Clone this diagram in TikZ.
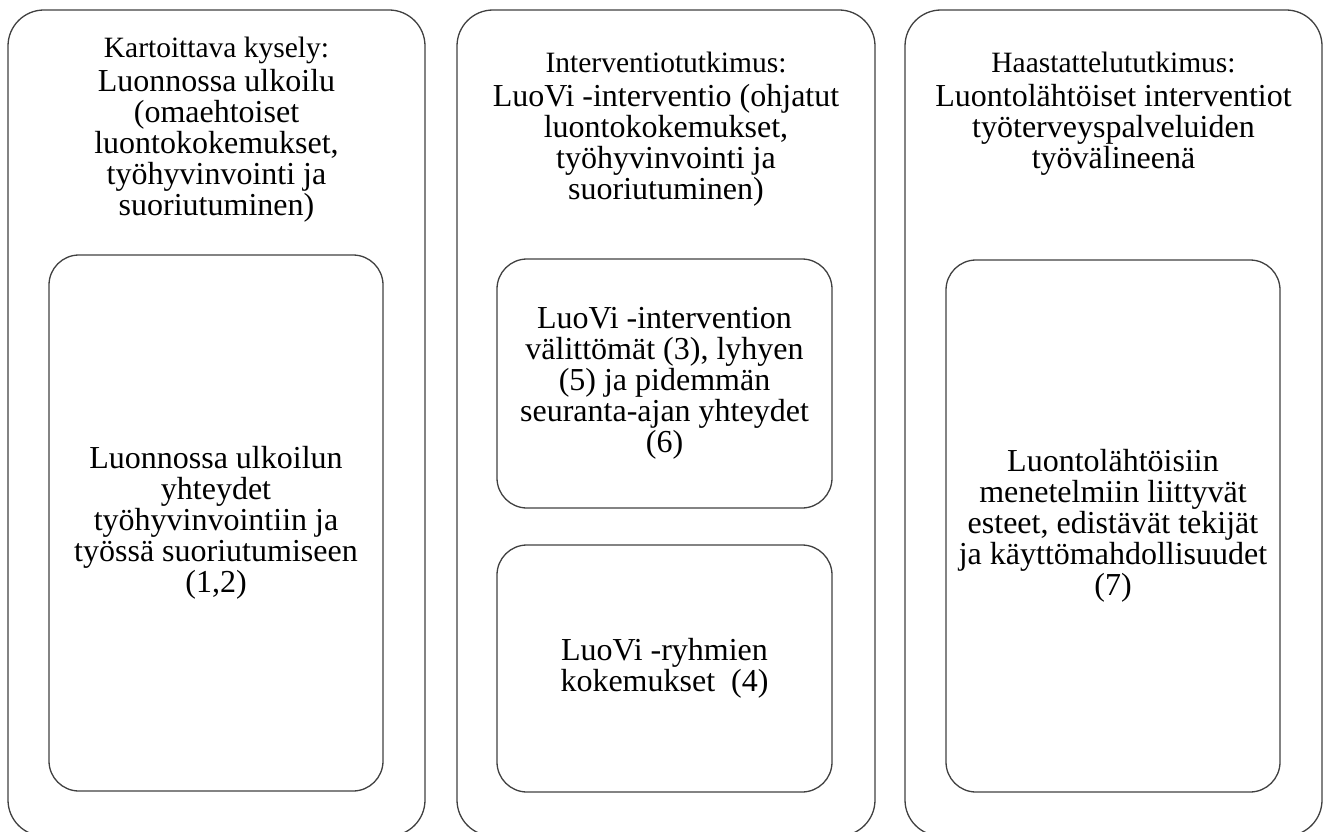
\documentclass[tikz,border=0pt]{standalone}
\usepackage{fontspec}
\setmainfont{Liberation Serif}
% text sizes: column headings, heading body, box body
\newcommand\leadsize{\fontsize{29.5}{31}\selectfont}
\newcommand\hdrsize{\fontsize{32}{31}\selectfont}
\newcommand\boxsize{\fontsize{32}{31}\selectfont}
% centred multi-line block whose baseline is its first line
\newcommand\block[2]{\parbox[t]{420pt}{#1\lineskiplimit=-100pt\relax\centering #2}}
\begin{document}
\begin{tikzpicture}[x=1pt,y=-1pt,
  frame/.style={draw=black!75, line width=1.3pt, rounded corners=36pt},
  inner/.style={draw=black!75, line width=1.3pt, rounded corners=30pt},
  hdr/.style={inner sep=0pt, anchor=base},
  txt/.style={inner sep=0pt, anchor=center}]
\useasboundingbox (0,0) rectangle (1330,832);

% three outer columns (their lower edges run past the page)
\draw[frame] (8,10) rectangle (425,836);
\draw[frame] (457,10) rectangle (875,836);
\draw[frame] (905,10) rectangle (1322,836);

% inner boxes
\node[inner, minimum width=334pt, minimum height=536pt] (b1) at (216,523) {};
\node[inner, minimum width=335pt, minimum height=249pt] (b2) at (664.5,383.5) {};
\node[inner, minimum width=335pt, minimum height=247pt] (b3) at (664.5,668.5) {};
\node[inner, minimum width=334pt, minimum height=532pt] (b4) at (1113,526) {};

% column headings
\node[hdr] (h1) at (216.5,58) {\block{\hdrsize}{{\leadsize Kartoittava kysely:}\\[3pt]
  Luonnossa ulkoilu\\(omaehtoiset\\luontokokemukset,\\työhyvinvointi ja\\suoriutuminen)}};
\node[hdr] (h2) at (666,73) {\block{\hdrsize}{{\leadsize Interventiotutkimus:}\\[3pt]
  LuoVi -interventio (ohjatut\\luontokokemukset,\\työhyvinvointi ja\\suoriutuminen)}};
\node[hdr] (h3) at (1113.5,73) {\block{\hdrsize}{{\leadsize Haastattelututkimus:}\\[3pt]
  Luontolähtöiset interventiot\\työterveyspalveluiden\\työvälineenä}};

% box texts
\node[txt] (t1) at (b1.center) {\block{\boxsize}{Luonnossa ulkoilun\\yhteydet\\työhyvinvointiin ja\\työssä suoriutumiseen\\(1,2)}};
\node[txt] (t2) at (b2.center) {\block{\boxsize}{LuoVi -intervention\\välittömät (3), lyhyen\\(5) ja pidemmän\\seuranta-ajan yhteydet\\(6)}};
\node[txt] (t3) at (b3.center) {\block{\boxsize}{LuoVi -ryhmien\\kokemukset~ (4)}};
\node[txt] (t4) at (b4.center) {\block{\boxsize}{Luontolähtöisiin\\menetelmiin liittyvät\\esteet, edistävät tekijät\\ja käyttömahdollisuudet\\(7)}};
\end{tikzpicture}
\end{document}
